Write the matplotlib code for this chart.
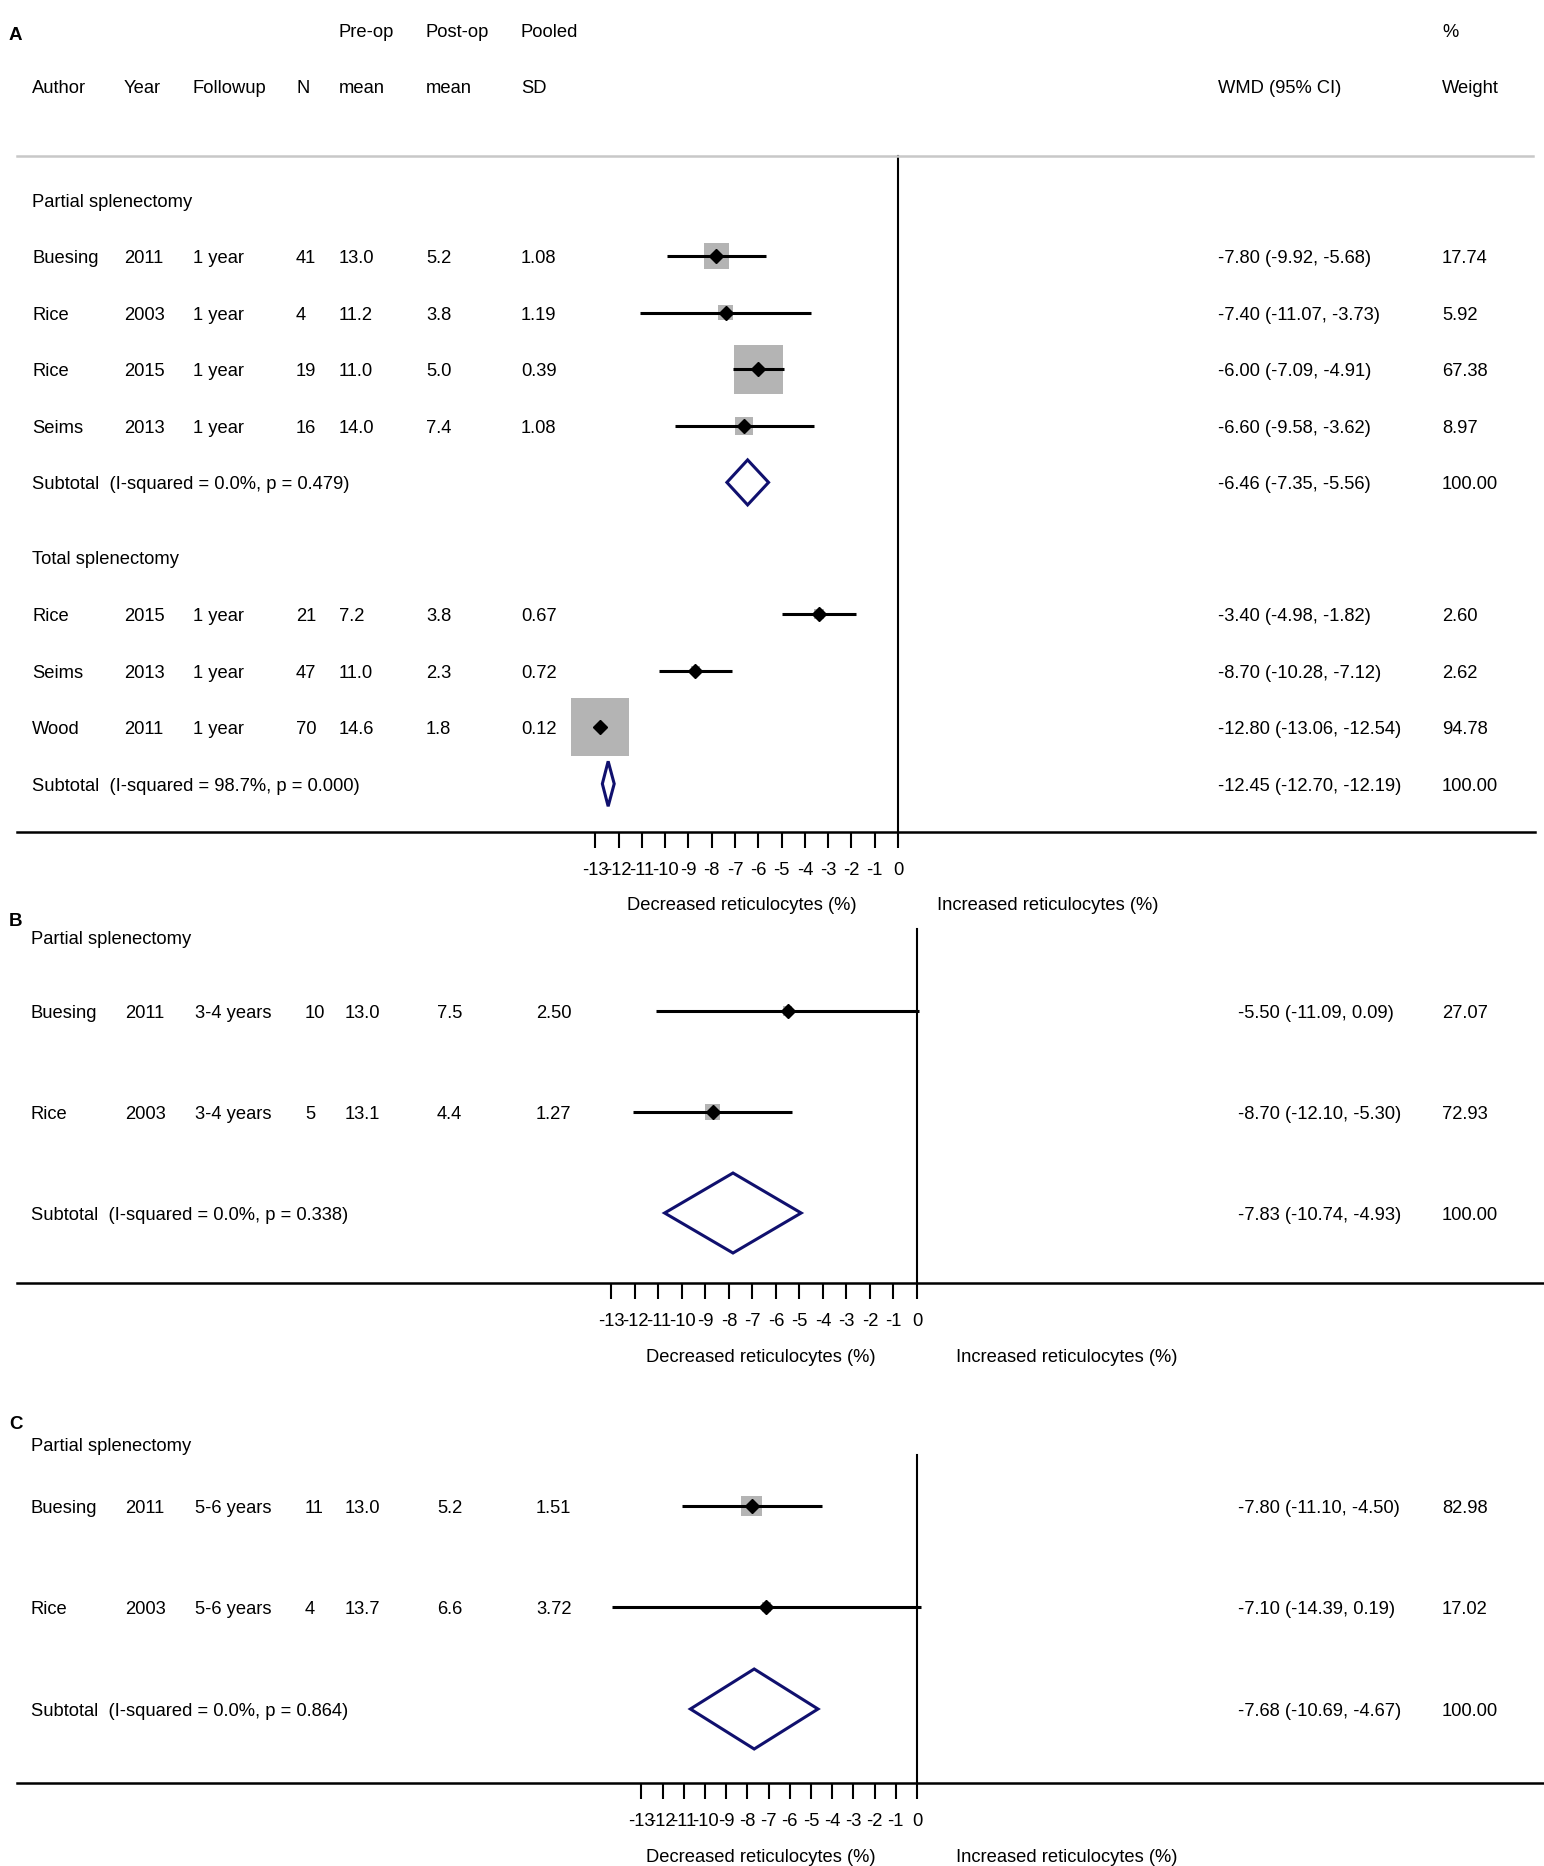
import matplotlib
matplotlib.use('Agg')
import matplotlib.pyplot as plt
from matplotlib.patches import Rectangle, Polygon
import numpy as np

W, H = 1544, 1866
plt.rcParams['font.family'] = ['Liberation Sans', 'DejaVu Sans']
FS = 13.2
DY = 2.5  # small downward nudge so glyphs sit centred on the row
GRAY = '#b4b4b4'
NAVY = '#10106e'

# ---- A: 1 year follow-up ----
a_part_author = ['Buesing', 'Rice', 'Rice', 'Seims']
a_part_year = [2011, 2003, 2015, 2013]
a_part_fu = ['1 year', '1 year', '1 year', '1 year']
a_part_n = [41, 4, 19, 16]
a_part_pre = [13.0, 11.2, 11.0, 14.0]
a_part_post = [5.2, 3.8, 5.0, 7.4]
a_part_sd = [1.08, 1.19, 0.39, 1.08]
a_part_wmd = [-7.80, -7.40, -6.00, -6.60]
a_part_lo = [-9.92, -11.07, -7.09, -9.58]
a_part_hi = [-5.68, -3.73, -4.91, -3.62]
a_part_wt = [17.74, 5.92, 67.38, 8.97]
a_part_sub = (-6.46, -7.35, -5.56, 0.0, 0.479)

a_tot_author = ['Rice', 'Seims', 'Wood']
a_tot_year = [2015, 2013, 2011]
a_tot_fu = ['1 year', '1 year', '1 year']
a_tot_n = [21, 47, 70]
a_tot_pre = [7.2, 11.0, 14.6]
a_tot_post = [3.8, 2.3, 1.8]
a_tot_sd = [0.67, 0.72, 0.12]
a_tot_wmd = [-3.40, -8.70, -12.80]
a_tot_lo = [-4.98, -10.28, -13.06]
a_tot_hi = [-1.82, -7.12, -12.54]
a_tot_wt = [2.60, 2.62, 94.78]
a_tot_sub = (-12.45, -12.70, -12.19, 98.7, 0.000)

# ---- B: 3-4 years follow-up ----
b_author = ['Buesing', 'Rice']
b_year = [2011, 2003]
b_fu = ['3-4 years', '3-4 years']
b_n = [10, 5]
b_pre = [13.0, 13.1]
b_post = [7.5, 4.4]
b_sd = [2.50, 1.27]
b_wmd = [-5.50, -8.70]
b_lo = [-11.09, -12.10]
b_hi = [0.09, -5.30]
b_wt = [27.07, 72.93]
b_sub = (-7.83, -10.74, -4.93, 0.0, 0.338)

# ---- C: 5-6 years follow-up ----
c_author = ['Buesing', 'Rice']
c_year = [2011, 2003]
c_fu = ['5-6 years', '5-6 years']
c_n = [11, 4]
c_pre = [13.0, 13.7]
c_post = [5.2, 6.6]
c_sd = [1.51, 3.72]
c_wmd = [-7.80, -7.10]
c_lo = [-11.10, -14.39]
c_hi = [-4.50, 0.19]
c_wt = [82.98, 17.02]
c_sub = (-7.68, -10.69, -4.67, 0.0, 0.864)

tick_vals = list(range(-13, 1))

fig = plt.figure(figsize=(W / 100, H / 100), dpi=100)


def panel_axes(zero_px, px_per_unit):
    ax = fig.add_axes([0, 0, 1, 1])
    ax.set_xlim(-zero_px / px_per_unit, (W - zero_px) / px_per_unit)
    ax.set_ylim(H, 0)
    ax.axis('off')
    ax.patch.set_alpha(0)
    return ax


def txt(ax, x, y, s, **kw):
    ax.text(x / W, y + DY, s, transform=ax.get_yaxis_transform(), fontsize=FS,
            va='center', ha='left', **kw)


def letter(ax, y, s):
    ax.text(9 / W, y + DY, s, transform=ax.get_yaxis_transform(), fontsize=13.5,
            fontweight='bold', va='center')


def studies(ax, ys, cols, scale, box_k, author, year, fu, n, pre, post, sd, wmd, lo, hi, wt):
    for i, y in enumerate(ys):
        vals = [author[i], str(year[i]), fu[i], str(n[i]), f'{pre[i]:.1f}',
                f'{post[i]:.1f}', f'{sd[i]:.2f}',
                f'{wmd[i]:.2f} ({lo[i]:.2f}, {hi[i]:.2f})', f'{wt[i]:.2f}']
        for x, v in zip(cols, vals):
            txt(ax, x, y, v)
        side = box_k * np.sqrt(wt[i])
        ax.add_patch(Rectangle((wmd[i] - side / 2 / scale, y - side / 2),
                               side / scale, side, facecolor=GRAY, lw=0, zorder=2))
        ax.plot([lo[i], hi[i]], [y, y], color='k', lw=2.2,
                solid_capstyle='butt', zorder=3)
        ax.plot(wmd[i], y, 'D', color='k', ms=6.8, zorder=4)


def subtotal(ax, y, cols, half_h, sub):
    est, lo, hi, i2, p = sub
    txt(ax, cols[0], y, f'Subtotal  (I-squared = {i2:.1f}%, p = {p:.3f})')
    txt(ax, cols[7], y, f'{est:.2f} ({lo:.2f}, {hi:.2f})')
    txt(ax, cols[8], y, '100.00')
    ax.add_patch(Polygon([(lo, y), (est, y - half_h), (hi, y), (est, y + half_h)],
                         closed=True, fill=False, edgecolor=NAVY, lw=2.2, zorder=3))


def x_axis(ax, top, axis_y, right, label_y):
    ax.plot([0, 0], [top, axis_y], color='k', lw=1.5, zorder=1)
    x0, x1 = ax.get_xlim()
    x_left = x0 + 17 * (x1 - x0) / W
    x_right = x0 + right * (x1 - x0) / W
    ax.plot([x_left, x_right], [axis_y, axis_y], color='k', lw=1.8)
    ax.vlines(tick_vals, axis_y, axis_y + 16, color='k', lw=1.5)
    for t in tick_vals:
        ax.text(t, axis_y + 36 + DY, str(t), fontsize=FS, ha='center', va='center')
    ax.annotate('Decreased reticulocytes (%)', xy=(0, label_y + DY), xytext=(-30, 0),
                textcoords='offset points', fontsize=FS, ha='right', va='center')
    ax.annotate('Increased reticulocytes (%)', xy=(0, label_y + DY), xytext=(28, 0),
                textcoords='offset points', fontsize=FS, ha='left', va='center')


# Panel A
colsA = [32, 124, 193, 296, 339, 426, 521, 1218, 1442]
axA = panel_axes(898, 23.28)
letter(axA, 33, 'A')
for x, s in zip([339, 426, 521, 1442], ['Pre-op', 'Post-op', 'Pooled', '%']):
    txt(axA, x, 30, s)
for x, s in zip(colsA, ['Author', 'Year', 'Followup', 'N', 'mean', 'mean', 'SD',
                        'WMD (95% CI)', 'Weight']):
    txt(axA, x, 86, s)
axA.plot(np.array([17, 1533]) / 23.28 - 898 / 23.28, [156, 156], color='#c8c8c8', lw=1.8)
txt(axA, 32, 200, 'Partial splenectomy')
rowA = 56.6
ysA1 = [256 + i * rowA for i in range(4)]
studies(axA, ysA1, colsA, 23.28, 6.0, a_part_author, a_part_year, a_part_fu, a_part_n,
        a_part_pre, a_part_post, a_part_sd, a_part_wmd, a_part_lo, a_part_hi, a_part_wt)
subtotal(axA, 256 + 4 * rowA, colsA, 22.5, a_part_sub)
txt(axA, 32, 557, 'Total splenectomy')
ysA2 = [614 + i * rowA for i in range(3)]
studies(axA, ysA2, colsA, 23.28, 6.0, a_tot_author, a_tot_year, a_tot_fu, a_tot_n,
        a_tot_pre, a_tot_post, a_tot_sd, a_tot_wmd, a_tot_lo, a_tot_hi, a_tot_wt)
subtotal(axA, 614 + 3 * rowA, colsA, 22.5, a_tot_sub)
x_axis(axA, 156, 832, 1535, 903)

# Panel B
colsBC = [31, 125, 195, 305, 345, 437, 536, 1238, 1442]
axB = panel_axes(917, 23.5)
letter(axB, 919, 'B')
txt(axB, 31, 937, 'Partial splenectomy')
studies(axB, [1011, 1112], colsBC, 23.5, 1.76, b_author, b_year, b_fu, b_n,
        b_pre, b_post, b_sd, b_wmd, b_lo, b_hi, b_wt)
subtotal(axB, 1213, colsBC, 40, b_sub)
x_axis(axB, 929, 1283, 1544, 1355)

# Panel C
axC = panel_axes(917, 21.2)
letter(axC, 1422, 'C')
txt(axC, 31, 1444, 'Partial splenectomy')
studies(axC, [1506, 1607], colsBC, 21.2, 2.3, c_author, c_year, c_fu, c_n,
        c_pre, c_post, c_sd, c_wmd, c_lo, c_hi, c_wt)
subtotal(axC, 1709, colsBC, 40, c_sub)
x_axis(axC, 1455, 1783, 1544, 1855)

fig.savefig('out.png', dpi=100)
